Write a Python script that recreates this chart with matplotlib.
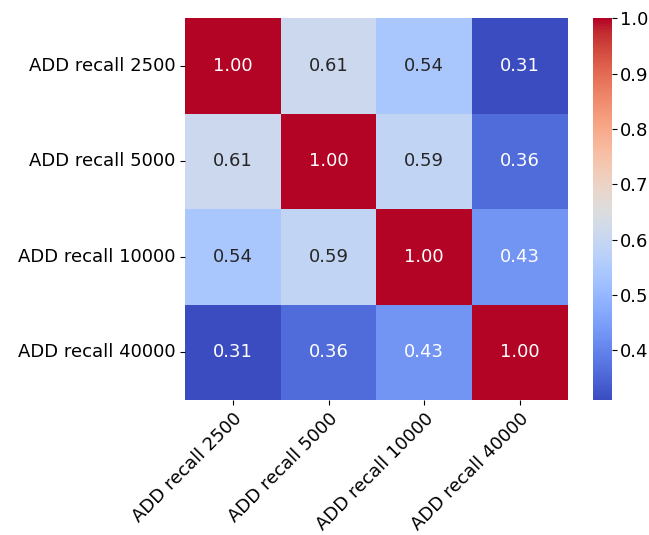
import matplotlib
matplotlib.use("Agg")
import matplotlib.pyplot as plt
import numpy as np
import pandas as pd
import seaborn as sns

labels = ["ADD recall 2500", "ADD recall 5000", "ADD recall 10000", "ADD recall 40000"]
corr = np.array([
    [1.00, 0.61, 0.54, 0.31],
    [0.61, 1.00, 0.59, 0.36],
    [0.54, 0.59, 1.00, 0.43],
    [0.31, 0.36, 0.43, 1.00],
])
df = pd.DataFrame(corr, index=labels, columns=labels)

fig = plt.figure(figsize=(6.49, 5.35), dpi=100)
ax = fig.add_axes([0.285, 0.252, 0.590, 0.714])
cax = fig.add_axes([0.913, 0.252, 0.030, 0.714])

sns.heatmap(df, annot=True, fmt=".2f", cmap="coolwarm", ax=ax, cbar_ax=cax,
            annot_kws={"fontsize": 13})

ax.tick_params(axis="both", labelsize=13)
plt.setp(ax.get_xticklabels(), rotation=45, ha="right", rotation_mode="anchor")
plt.setp(ax.get_yticklabels(), rotation=0)
cax.tick_params(labelsize=13, pad=2)

fig.savefig("out.png", dpi=100)
